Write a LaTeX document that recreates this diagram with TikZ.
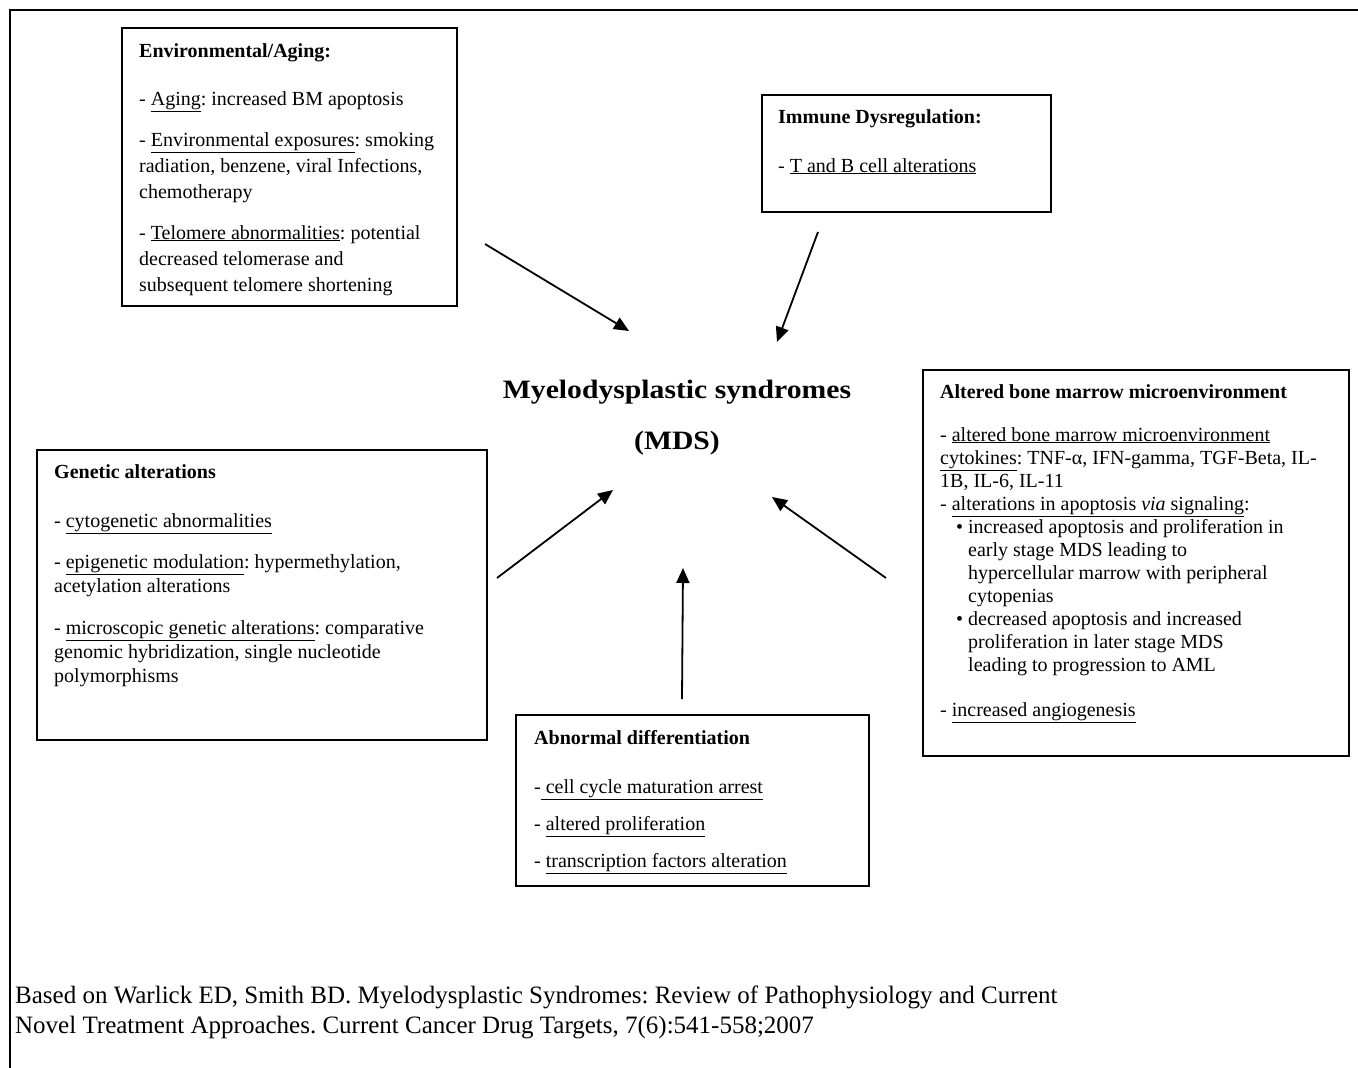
\documentclass[tikz,border=0pt]{standalone}
\usepackage{fontspec}
\setmainfont{Liberation Serif}
\newfontfamily\titlefont[FakeStretch=1.12]{Liberation Serif}
\usetikzlibrary{arrows.meta}
\newcommand\und[1]{\underline{#1}}
\frenchspacing
\tikzset{
  x=1pt, y=-1pt,
  box/.style={draw, line width=1.5pt, anchor=north west, inner sep=0pt},
  txt/.style={anchor=north west, inner sep=0pt, align=left, font=\fontsize{20}{23}\selectfont},
  arr/.style={line width=1.8pt, -{Triangle[length=15pt,width=13pt]}},
  ttl/.style={font=\titlefont\bfseries\fontsize{26.5}{30}\selectfont},
}
\begin{document}
\begin{tikzpicture}
\useasboundingbox (0,0) rectangle (1358,1068);
\draw[line width=2.5pt] (1358,10) -- (10,10) -- (10,1068);

% Environmental / Aging
\node[box, minimum width=335pt, minimum height=278pt] (envbox) at (121,27) {};
\node[txt, font=\fontsize{20}{26}\selectfont] (envtxt) at (139,43) {%
\textbf{Environmental/Aging:}\\[22pt]
- \und{Aging}: increased BM apoptosis\\[15pt]
- \und{Environmental exposures}: smoking\\
radiation, benzene, viral Infections,\\
chemotherapy\\[15pt]
- \und{Telomere abnormalities}: potential\\
decreased telomerase and\\
subsequent telomere shortening};

% Immune
\node[box, minimum width=289pt, minimum height=117pt] (immbox) at (761,94) {};
\node[txt] (immtxt) at (778,109) {%
\textbf{Immune Dysregulation:}\\[26pt]
- \und{T and B cell alterations}};

% Title
\node[ttl] (mds1) at (677,392) {Myelodysplastic syndromes};
\node[ttl] (mds2) at (677,443) {(MDS)};

% Altered bone marrow
\node[box, minimum width=426pt, minimum height=386pt] (bmbox) at (922,369) {};
\node[txt] (bmtxt) at (940,384) {%
\textbf{Altered bone marrow microenvironment}\\[20pt]
- \und{altered bone marrow microenvironment}\\
\und{cytokines}: TNF-α, IFN-gamma, TGF-Beta, IL-\\
1B, IL-6, IL-11\\
- \und{alterations in apoptosis \textit{via} signaling}:\\
\hspace*{16pt}\makebox[12pt][l]{\textbullet}increased apoptosis and proliferation in\\
\hspace*{28pt}early stage MDS leading to\\
\hspace*{28pt}hypercellular marrow with peripheral\\
\hspace*{28pt}cytopenias\\
\hspace*{16pt}\makebox[12pt][l]{\textbullet}decreased apoptosis and increased\\
\hspace*{28pt}proliferation in later stage MDS\\
\hspace*{28pt}leading to progression to AML\\[22pt]
- \und{increased angiogenesis}};

% Genetic
\node[box, minimum width=450pt, minimum height=290pt] (genbox) at (36,449) {};
\node[txt, font=\fontsize{20}{24}\selectfont] (gentxt) at (54,464) {%
\textbf{Genetic alterations}\\[25pt]
- \und{cytogenetic abnormalities}\\[17pt]
- \und{epigenetic modulation}: hypermethylation,\\
acetylation alterations\\[18pt]
- \und{microscopic genetic alterations}: comparative\\
genomic hybridization, single nucleotide\\
polymorphisms};

% Abnormal differentiation
\node[box, minimum width=353pt, minimum height=171pt] (difbox) at (515,714) {};
\node[txt, font=\fontsize{20}{37}\selectfont] (diftxt) at (534,730) {%
\textbf{Abnormal differentiation}\\[12pt]
-\und{ cell cycle maturation arrest}\\
- \und{altered proliferation}\\
- \und{transcription factors alteration}};

% Footer
\node[anchor=north west, inner sep=0pt, align=left, font=\fontsize{25}{30}\selectfont] (foot) at (15,986) {%
Based on Warlick ED, Smith BD. Myelodysplastic Syndromes: Review of Pathophysiology and Current\\
Novel Treatment Approaches. Current Cancer Drug Targets, 7(6):541-558;2007};

% Arrows
\coordinate (a1) at (485,244); \coordinate (b1) at (629,331);
\coordinate (a2) at (818,232); \coordinate (b2) at (777,342);
\coordinate (a3) at (497,578); \coordinate (b3) at (613,490);
\coordinate (a4) at (682,699); \coordinate (b4) at (683,568);
\coordinate (a5) at (886,578); \coordinate (b5) at (772,497);
\draw[arr] (a1) -- (b1);
\draw[arr] (a2) -- (b2);
\draw[arr] (a3) -- (b3);
\draw[arr] (a4) -- (b4);
\draw[arr] (a5) -- (b5);
\end{tikzpicture}
\end{document}
